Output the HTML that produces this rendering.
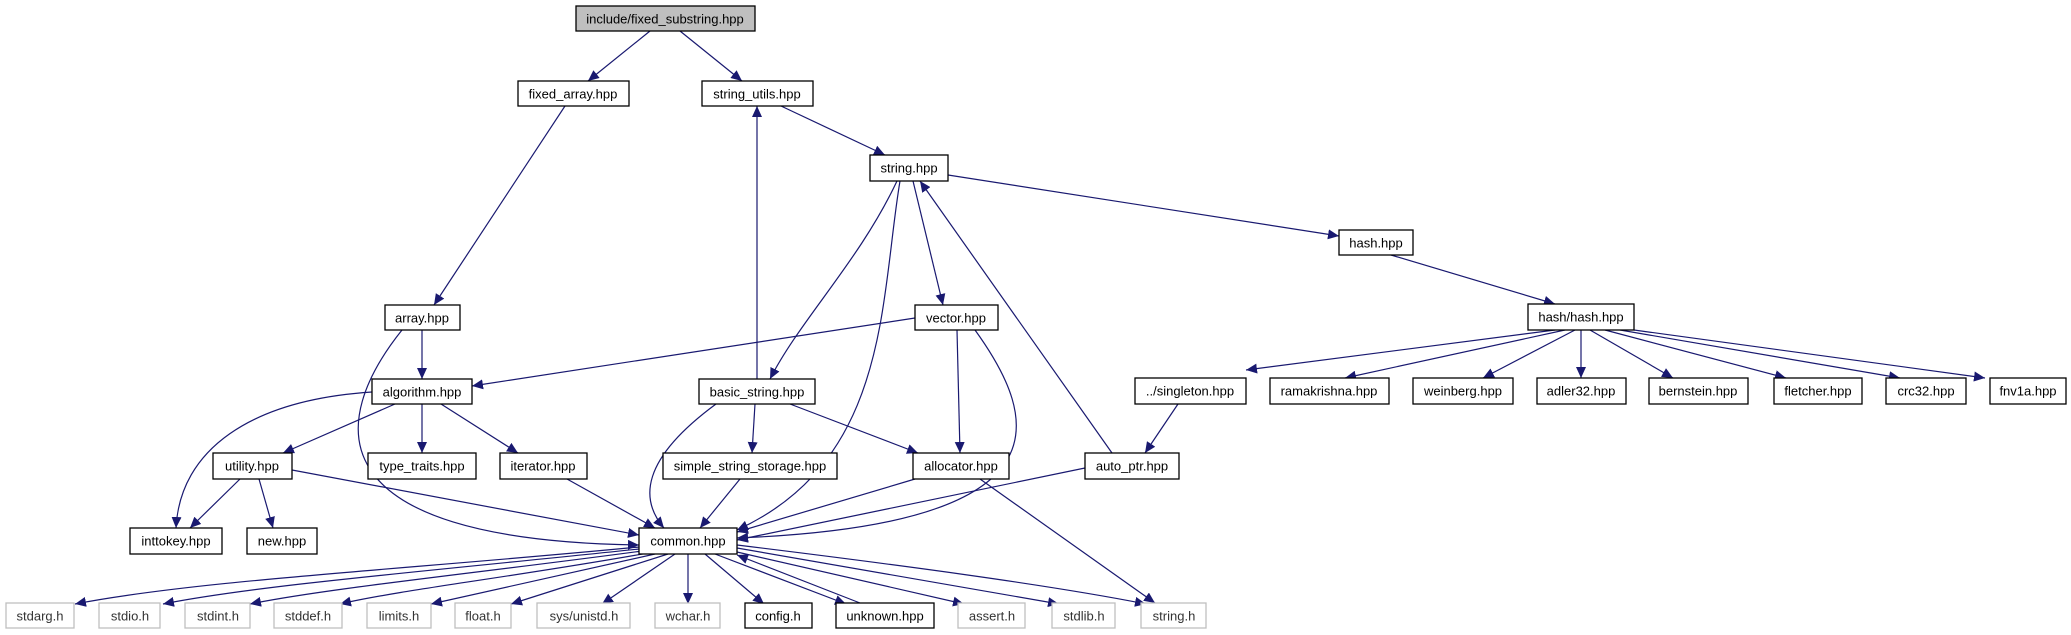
<!DOCTYPE html>
<html><head><meta charset="utf-8"><style>
html,body{margin:0;padding:0;background:#fff;width:2071px;height:635px;overflow:hidden}
text{font-family:"Liberation Sans",sans-serif;font-size:13px;text-anchor:middle;dominant-baseline:central}
.n rect{fill:#fff;stroke:#000;stroke-width:1.3}
.g rect{fill:#fff;stroke:#bfbfbf;stroke-width:1.3}
.g text{fill:#333}
.e{fill:none;stroke:#191970;stroke-width:1.2;marker-end:url(#a)}
</style></head><body>
<svg width="2071" height="635" viewBox="0 0 2071 635" xmlns="http://www.w3.org/2000/svg">
<defs><marker id="a" markerUnits="userSpaceOnUse" markerWidth="12" markerHeight="10" refX="11" refY="5" orient="auto"><path d="M0,0 L11,5 L0,10 z" fill="#191970"/></marker></defs>
<g>
<path class="e" d="M650 31 L588 81"/>
<path class="e" d="M680 31 L742 81"/>
<path class="e" d="M565 106 L434 305"/>
<path class="e" d="M781 106 L885 155"/>
<path class="e" d="M757 379 L757 106"/>
<path class="e" d="M948 175 L1339 236"/>
<path class="e" d="M1391 255 L1555 304"/>
<path class="e" d="M897 181 C 860 260, 800 320, 770 379"/>
<path class="e" d="M900 181 C 880 300, 890 460, 737 530"/>
<path class="e" d="M913 181 L943 305"/>
<path class="e" d="M1112 453 L920 181"/>
<path class="e" d="M1555 330 L1246 370"/>
<path class="e" d="M1565 330 L1345 378"/>
<path class="e" d="M1575 330 L1483 378"/>
<path class="e" d="M1581 330 L1581 378"/>
<path class="e" d="M1590 330 L1673 378"/>
<path class="e" d="M1605 330 L1786 378"/>
<path class="e" d="M1620 330 L1900 378"/>
<path class="e" d="M1634 330 L1985 378"/>
<path class="e" d="M422 330 L422 379"/>
<path class="e" d="M402 330 C 330 420, 310 540, 639 545"/>
<path class="e" d="M915 318 L472 386"/>
<path class="e" d="M957 330 L960 453"/>
<path class="e" d="M975 330 C 1040 420, 1070 525, 737 538"/>
<path class="e" d="M372 392 C 250 400, 180 450, 176 528"/>
<path class="e" d="M395 404 L283 453"/>
<path class="e" d="M422 404 L422 453"/>
<path class="e" d="M441 404 L518 453"/>
<path class="e" d="M716 404 C 640 460, 640 500, 664 528"/>
<path class="e" d="M755 404 L752 453"/>
<path class="e" d="M790 404 L918 453"/>
<path class="e" d="M1178 404 L1145 453"/>
<path class="e" d="M240 479 L190 528"/>
<path class="e" d="M259 479 L273 528"/>
<path class="e" d="M292 470 L639 535"/>
<path class="e" d="M567 479 L655 528"/>
<path class="e" d="M740 479 L700 528"/>
<path class="e" d="M915 479 L737 532"/>
<path class="e" d="M980 479 L1155 603"/>
<path class="e" d="M1085 468 L737 540"/>
<path class="e" d="M639 547 C 400 570, 200 580, 75 604"/>
<path class="e" d="M639 549 C 420 572, 260 585, 163 604"/>
<path class="e" d="M642 551 C 470 574, 330 588, 250 604"/>
<path class="e" d="M648 553 C 520 576, 400 590, 340 604"/>
<path class="e" d="M655 554 L431 604"/>
<path class="e" d="M668 554 L511 604"/>
<path class="e" d="M675 554 L602 604"/>
<path class="e" d="M688 554 L688 604"/>
<path class="e" d="M705 554 L764 604"/>
<path class="e" d="M715 554 L846 604"/>
<path class="e" d="M860 603 L737 555"/>
<path class="e" d="M737 552 L964 604"/>
<path class="e" d="M737 548 L1059 604"/>
<path class="e" d="M737 545 C 900 565, 1050 585, 1146 604"/>
</g>
<g class="n" fill="#000">
<rect x="576" y="6" width="179" height="25" style="fill:#bfbfbf"/><text x="665" y="19">include/fixed_substring.hpp</text>
<rect x="518" y="81" width="111" height="25"/><text x="573" y="94">fixed_array.hpp</text>
<rect x="702" y="81" width="111" height="25"/><text x="757" y="94">string_utils.hpp</text>
<rect x="870" y="155" width="78" height="26"/><text x="909" y="168">string.hpp</text>
<rect x="1339" y="230" width="74" height="25"/><text x="1376" y="243">hash.hpp</text>
<rect x="385" y="305" width="75" height="25"/><text x="422" y="318">array.hpp</text>
<rect x="915" y="305" width="83" height="25"/><text x="956" y="318">vector.hpp</text>
<rect x="1528" y="304" width="106" height="26"/><text x="1581" y="317">hash/hash.hpp</text>
<rect x="372" y="379" width="100" height="25"/><text x="422" y="392">algorithm.hpp</text>
<rect x="699" y="379" width="116" height="25"/><text x="757" y="392">basic_string.hpp</text>
<rect x="1135" y="378" width="111" height="26"/><text x="1190" y="391">../singleton.hpp</text>
<rect x="1270" y="378" width="119" height="26"/><text x="1329" y="391">ramakrishna.hpp</text>
<rect x="1413" y="378" width="100" height="26"/><text x="1463" y="391">weinberg.hpp</text>
<rect x="1537" y="378" width="89" height="26"/><text x="1581" y="391">adler32.hpp</text>
<rect x="1649" y="378" width="99" height="26"/><text x="1698" y="391">bernstein.hpp</text>
<rect x="1774" y="378" width="88" height="26"/><text x="1818" y="391">fletcher.hpp</text>
<rect x="1886" y="378" width="80" height="26"/><text x="1926" y="391">crc32.hpp</text>
<rect x="1990" y="378" width="76" height="26"/><text x="2028" y="391">fnv1a.hpp</text>
<rect x="213" y="453" width="79" height="26"/><text x="252" y="466">utility.hpp</text>
<rect x="368" y="453" width="108" height="26"/><text x="422" y="466">type_traits.hpp</text>
<rect x="500" y="453" width="87" height="26"/><text x="543" y="466">iterator.hpp</text>
<rect x="663" y="453" width="174" height="26"/><text x="750" y="466">simple_string_storage.hpp</text>
<rect x="913" y="453" width="96" height="26"/><text x="961" y="466">allocator.hpp</text>
<rect x="1085" y="453" width="94" height="26"/><text x="1132" y="466">auto_ptr.hpp</text>
<rect x="130" y="528" width="92" height="26"/><text x="176" y="541">inttokey.hpp</text>
<rect x="247" y="528" width="70" height="26"/><text x="282" y="541">new.hpp</text>
<rect x="639" y="528" width="98" height="26"/><text x="688" y="541">common.hpp</text>
<rect x="745" y="603" width="67" height="25"/><text x="778" y="616">config.h</text>
<rect x="836" y="603" width="98" height="25"/><text x="885" y="616">unknown.hpp</text>
</g>
<g class="g">
<rect x="6" y="603" width="68" height="25"/><text x="40" y="616">stdarg.h</text>
<rect x="99" y="603" width="61" height="25"/><text x="130" y="616">stdio.h</text>
<rect x="185" y="603" width="65" height="25"/><text x="218" y="616">stdint.h</text>
<rect x="274" y="603" width="68" height="25"/><text x="308" y="616">stddef.h</text>
<rect x="367" y="603" width="64" height="25"/><text x="399" y="616">limits.h</text>
<rect x="455" y="603" width="56" height="25"/><text x="483" y="616">float.h</text>
<rect x="537" y="603" width="93" height="25"/><text x="584" y="616">sys/unistd.h</text>
<rect x="655" y="603" width="65" height="25"/><text x="688" y="616">wchar.h</text>
<rect x="958" y="603" width="67" height="25"/><text x="992" y="616">assert.h</text>
<rect x="1052" y="603" width="63" height="25"/><text x="1084" y="616">stdlib.h</text>
<rect x="1141" y="603" width="65" height="25"/><text x="1174" y="616">string.h</text>
</g>
</svg>
</body></html>
